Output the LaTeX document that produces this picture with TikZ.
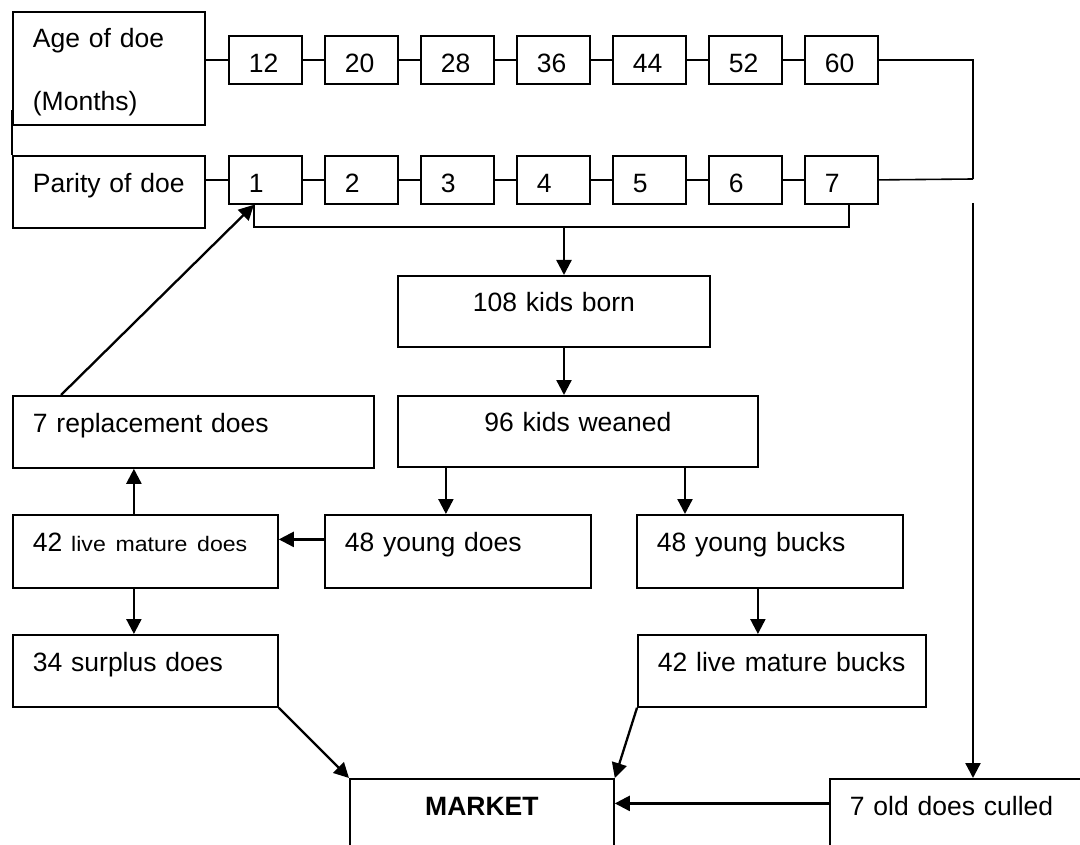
\documentclass[tikz,border=0pt]{standalone}
\usepackage{fontspec}
\setmainfont{Liberation Sans}
\usetikzlibrary{arrows.meta}

\begin{document}
\begin{tikzpicture}[x=1pt, y=-1pt,
        box/.style={draw, line width=1.8pt, anchor=north west, align=left,
          inner xsep=20pt, inner ysep=0pt, text height=19pt, text depth=18pt,
          font=\fontsize{26.5}{32}\selectfont},
        numbox/.style={box, minimum width=73pt, minimum height=48pt,
          text width=33pt, text height=26pt, text depth=0pt},
        link/.style={line width=1.6pt},
        flow/.style={line width=2.3pt, -{Triangle[length=15pt, width=15pt]}}]
        \path[use as bounding box, clip] (0,0) rectangle (1080,845);

        % doe age and parity rows
        \node[box, text width=152pt, minimum height=113pt, text height=27.5pt, text depth=]
          (age) at (12,11) {Age of doe\\[31pt](Months)};
        \node[box, text width=152pt, minimum height=72pt] (parity) at (12,155) {Parity of doe};
        \foreach \a [count=\i] in {12,20,28,36,44,52,60}
          \node[numbox] (a\i) at ({228+96*(\i-1)},35) {\a};
        \foreach \i in {1,...,7}
          \node[numbox] (p\i) at ({228+96*(\i-1)},155) {\i};
        \draw[link] ([yshift=16pt]age.south west) -- (parity.north west);
        \draw[link] (a1.west -| age.east) -- (a1.west);
        \draw[link] (p1.west -| parity.east) -- (p1.west);
        \foreach \i/\j in {1/2,2/3,3/4,4/5,5/6,6/7} {
          \draw[link] (a\i.east) -- (a\j.west);
          \draw[link] (p\i.east) -- (p\j.west);
        }
        \coordinate (joint) at (973,179);
        \coordinate (drop) at (973,203);
        \coordinate (brk) at (564,227);
        \draw[link] (a7.east) -| (joint);
        \draw[link] (p7.east) -- (joint);
        \draw[link] ([xshift=-11.5pt]p1.south) |- (brk) -| ([xshift=7.5pt]p7.south);

        % kid flow
        \node[box, align=center, text width=272pt, minimum height=71pt] (born) at (397,275) {108 kids born};
        \node[box, align=center, text width=320pt, minimum height=71pt] (weaned) at (397,395) {96 kids weaned};
        \node[box, text width=321pt, minimum height=72pt] (repl) at (12,395) {7 replacement does};
        \node[box, text width=225pt, minimum height=73pt] (mdoes) at (12,514)
          {42 \scalebox{1.1}[1]{\fontsize{21}{25}\selectfont live mature does}};
        \node[box, text width=226pt, minimum height=73pt] (ydoes) at (324,514) {48 young does};
        \node[box, text width=226pt, minimum height=73pt] (ybucks) at (636,514) {48 young bucks};
        \node[box, text width=225pt, minimum height=72pt] (surplus) at (12,634) {34 surplus does};
        \node[box, text width=248pt, minimum height=72pt] (mbucks) at (637,634) {42 live mature bucks};
        \node[box, align=center, text width=224pt, minimum height=73pt, font=\fontsize{26.5}{32}\selectfont\bfseries]
          (market) at (349,778) {MARKET};
        \node[box, text width=246pt, minimum height=73pt] (old) at (829,778) {7 old does culled};

        \draw[flow] (brk) -- (brk |- born.north);
        \draw[flow] (born.south -| brk) -- (weaned.north -| brk);
        \draw[flow] ([xshift=-12pt]ydoes.north |- weaned.south) -- ([xshift=-12pt]ydoes.north);
        \draw[flow] ([xshift=49pt]ybucks.north west |- weaned.south) -- ([xshift=49pt]ybucks.north west);
        \draw[flow] ([yshift=12pt]ydoes.west) -- ([yshift=12pt]ydoes.west -| mdoes.east);
        \draw[flow] ([xshift=-11.5pt]mdoes.north) -- ([xshift=-11.5pt]mdoes.north |- repl.south);
        \draw[flow] ([xshift=49pt]repl.north west) -- ([xshift=-11.5pt]p1.south);
        \draw[flow] ([xshift=-11.5pt]mdoes.south) -- ([xshift=-11.5pt]mdoes.south |- surplus.north);
        \draw[flow] ([xshift=-12pt]ybucks.south) -- ([xshift=-12pt]ybucks.south |- mbucks.north);
        \draw[flow] (surplus.south east) -- (market.north west);
        \draw[flow] (mbucks.south west) -- (market.north east);
        \draw[flow] ([yshift=12pt]old.west) -- ([yshift=12pt]old.west -| market.east);
        \draw[flow] (drop) -- (drop |- old.north);
\end{tikzpicture}
\end{document}
